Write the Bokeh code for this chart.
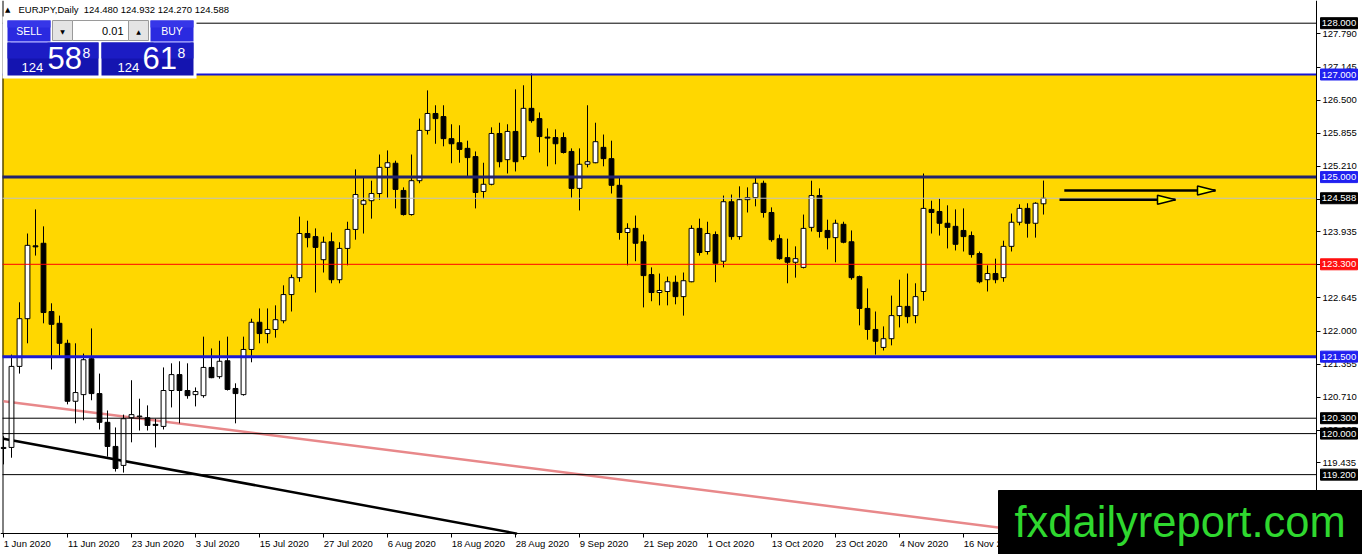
from bokeh.plotting import figure
from bokeh.models import (Range1d, BoxAnnotation, Label, FixedTicker, LinearAxis,
                          PrintfTickFormatter, AllLabels, ColumnDataSource)
from bokeh.embed import file_html
from bokeh.resources import INLINE

# ---------------- data ----------------
symbol_text = "EURJPY,Daily"
last_ohlc = "124.480 124.932 124.270 124.588"

opens = [119.71, 119.73, 121.31, 122.24, 123.66, 123.71, 122.38, 122.15, 121.76, 120.63,
         120.76, 121.46, 120.78, 120.22, 119.75, 119.38, 120.31, 120.33, 120.31, 120.18,
         120.14, 120.84, 121.15, 120.84, 120.76, 120.74, 121.29, 121.11, 121.42, 120.88,
         120.76, 121.64, 122.17, 121.95, 122.03, 122.20, 122.71, 123.04, 123.90, 123.84,
         123.39, 123.74, 123.00, 123.61, 123.98, 124.47, 124.54, 124.68, 125.19, 125.27,
         124.74, 124.27, 124.93, 125.91, 126.24, 126.18, 125.75, 125.67, 125.56, 125.40,
         124.72, 124.86, 125.85, 125.34, 125.89, 125.40, 126.34, 126.14, 125.78, 125.77,
         125.77, 125.50, 124.78, 125.25, 125.28, 125.58, 125.36, 124.84, 123.92, 124.00,
         123.74, 123.10, 122.75, 122.77, 122.95, 122.67, 122.96, 124.00, 123.55, 123.88,
         123.36, 124.52, 123.84, 124.56, 124.60, 124.88, 124.31, 123.80, 123.43, 123.34,
         123.24, 124.02, 124.64, 123.96, 123.82, 124.08, 123.74, 123.06, 122.44, 122.03,
         121.68, 121.85, 122.30, 122.48, 122.30, 122.77, 124.37, 124.33, 124.10, 124.04,
         123.96, 123.86, 123.51, 123.00, 123.12, 123.04, 123.65, 124.12, 124.39, 124.10,
         124.480]
highs = [119.95, 121.54, 122.56, 123.90, 124.37, 124.04, 122.54, 122.30, 121.83, 121.76,
         121.56, 122.05, 121.17, 120.45, 120.12, 120.37, 121.04, 120.68, 120.55, 120.29,
         121.29, 121.37, 121.41, 121.37, 120.90, 121.89, 121.66, 121.81, 121.89, 120.98,
         121.89, 122.24, 122.44, 122.44, 122.50, 122.89, 123.10, 124.23, 124.15, 124.00,
         123.84, 123.92, 123.73, 124.13, 125.15, 124.99, 124.93, 125.44, 125.52, 125.32,
         124.80, 125.44, 126.14, 126.69, 126.40, 126.40, 126.03, 126.01, 125.71, 125.50,
         125.28, 125.97, 126.06, 126.03, 126.71, 126.79, 127.02, 126.26, 125.95, 125.93,
         125.87, 125.56, 125.56, 126.40, 126.06, 125.83, 125.71, 124.99, 124.10, 124.25,
         123.88, 123.24, 123.12, 123.06, 123.08, 123.14, 124.06, 124.19, 124.13, 123.94,
         124.64, 124.66, 124.82, 124.80, 125.01, 124.93, 124.41, 123.88, 123.80, 123.65,
         124.27, 124.93, 124.78, 124.17, 124.17, 124.13, 123.96, 123.08, 122.83, 122.38,
         122.09, 122.69, 123.00, 123.12, 122.93, 125.07, 124.54, 124.58, 124.45, 124.37,
         124.39, 123.94, 123.55, 123.28, 123.41, 123.76, 124.29, 124.47, 124.49, 124.51,
         124.932]
lows = [119.40, 119.53, 121.17, 121.76, 123.47, 122.15, 121.25, 121.52, 120.57, 120.20,
        120.26, 120.65, 120.08, 119.55, 119.26, 119.24, 119.83, 120.06, 120.06, 119.73,
        120.08, 120.51, 120.20, 120.68, 120.53, 120.70, 121.08, 121.07, 120.84, 120.20,
        120.74, 121.39, 121.76, 121.76, 121.87, 122.15, 122.38, 122.96, 123.63, 122.75,
        123.14, 122.93, 122.93, 123.28, 123.78, 123.90, 124.19, 124.56, 124.60, 124.39,
        124.25, 124.25, 124.88, 125.83, 125.65, 125.60, 125.27, 125.28, 124.99, 124.39,
        124.58, 124.84, 125.19, 125.07, 125.11, 125.34, 126.06, 125.48, 125.21, 125.25,
        125.46, 124.60, 124.35, 125.19, 125.27, 125.21, 124.68, 123.78, 123.28, 123.36,
        122.46, 122.58, 122.50, 122.50, 122.52, 122.30, 122.95, 123.47, 123.49, 122.95,
        123.24, 123.78, 123.78, 124.31, 124.43, 124.21, 123.74, 123.39, 122.93, 123.04,
        123.22, 123.94, 123.82, 123.59, 123.34, 123.71, 123.00, 122.11, 121.83, 121.54,
        121.62, 121.72, 122.07, 122.15, 122.15, 122.59, 123.90, 123.86, 123.61, 123.57,
        123.55, 123.43, 122.93, 122.77, 122.93, 122.96, 123.55, 124.06, 123.82, 123.82,
        124.270]
closes = [119.73, 121.31, 122.24, 123.67, 123.64, 122.36, 122.13, 121.76, 120.63, 120.80,
          121.44, 120.78, 120.22, 119.75, 119.32, 120.29, 120.37, 120.34, 120.16, 120.16,
          120.84, 121.15, 120.84, 120.74, 120.82, 121.29, 121.09, 121.41, 120.86, 120.78,
          121.64, 122.17, 121.95, 122.03, 122.22, 122.71, 123.04, 123.90, 123.82, 123.63,
          123.73, 123.00, 123.61, 123.98, 124.66, 124.54, 124.68, 125.19, 125.28, 124.76,
          124.27, 124.93, 125.91, 126.24, 126.14, 125.75, 125.65, 125.54, 125.38, 124.70,
          124.86, 125.85, 125.30, 125.89, 125.30, 126.34, 126.10, 125.79, 125.76, 125.65,
          125.48, 124.78, 125.25, 125.30, 125.69, 125.36, 124.84, 123.92, 124.00, 123.71,
          123.08, 122.75, 122.79, 122.96, 122.67, 122.98, 124.00, 123.53, 123.90, 123.32,
          124.52, 123.84, 124.56, 124.60, 124.88, 124.31, 123.78, 123.41, 123.34, 123.41,
          124.00, 124.64, 123.94, 123.82, 124.10, 123.73, 123.04, 122.44, 122.03, 121.80,
          121.85, 122.30, 122.48, 122.28, 122.67, 124.39, 124.31, 124.10, 124.02, 123.69,
          123.84, 123.49, 122.96, 123.12, 123.00, 123.65, 124.12, 124.39, 124.10, 124.49,
          124.588]

date_ticks = [0, 8, 16, 24, 32, 40, 48, 56, 64, 72, 80, 88, 96, 104, 112, 120, 128]
date_labels = ["1 Jun 2020", "11 Jun 2020", "23 Jun 2020", "3 Jul 2020", "15 Jul 2020",
               "27 Jul 2020", "6 Aug 2020", "18 Aug 2020", "28 Aug 2020", "9 Sep 2020",
               "21 Sep 2020", "1 Oct 2020", "13 Oct 2020", "23 Oct 2020", "4 Nov 2020",
               "16 Nov 2020", "26 Nov 2020"]
price_ticks = [127.790, 127.145, 126.500, 125.855, 125.210, 124.565, 123.935, 123.290,
               122.645, 122.000, 121.355, 120.710, 120.065, 119.435]

level_prices = [128.000, 127.000, 125.000, 124.588, 123.300, 121.500, 120.300, 120.000, 119.200]
level_line_colors = ["#000000", "#1515d6", "#22226e", "#c0c0c0", "#ff0000", "#1a1ad2",
                     "#000000", "#000000", "#000000"]
level_line_widths = [1, 2, 3, 1, 1, 3, 1, 1, 1]
level_tag_colors = ["#000000", "#2020f0", "#2020f0", "#000000", "#ff1010", "#2020f0",
                    "#000000", "#000000", "#000000"]

zone_low, zone_high = 121.5, 127.0

pink_x = [0, 130.3]
pink_y = [120.63, 118.05]
black_x = [0, 64.2]
black_y = [119.90, 118.05]

arrow_x0 = [132.6, 132.0]
arrow_x1 = [151.5, 146.5]
arrow_y = [124.74, 124.56]

sell_big, sell_small, sell_sup = "58", "124", "8"
buy_big, buy_small, buy_sup = "61", "124", "8"
lot_text = "0.01"
watermark = "fxdailyreport.com"


# helpers that convert reference-picture pixels into data units (layout only)
def X(px):
    return (px - 3) / 8.0


def Y(py):
    return 127.0 - (py - 74) / 51.3


FONT = "Liberation Sans"
AXIS_X = X(1316)      # right price scale
AXIS_Y = Y(533)       # bottom time scale

p = figure(width=1362, height=554, x_range=Range1d(X(0), X(1362)), y_range=Range1d(Y(554), Y(0)),
           y_axis_location="right", output_backend="svg", toolbar_location=None,
           min_border=0, min_border_left=0, min_border_top=0, min_border_right=0, min_border_bottom=0)
p.background_fill_color = "white"
p.border_fill_color = "white"
p.outline_line_color = None
p.xgrid.visible = False
p.ygrid.visible = False

# yellow zone
p.add_layout(BoxAnnotation(bottom=zone_low, top=zone_high, left=X(2), right=AXIS_X,
                           fill_color="#FFD700", fill_alpha=1.0, line_color=None, level="underlay"))

# left border
p.segment(x0=[X(2.5)], y0=[AXIS_Y], x1=[X(2.5)], y1=[Y(0)], line_color="black", line_width=1)

# trend lines
p.line(pink_x, pink_y, line_color="#e8888a", line_width=2.5)
p.line(black_x, black_y, line_color="#000000", line_width=2.5)

# candles
n = len(opens)
idx = list(range(n))
tops, bots, fills = [], [], []
for o, c in zip(opens, closes):
    t, b = max(o, c), min(o, c)
    if t - b < 0.012:
        t = b + 0.012
    tops.append(t)
    bots.append(b)
    fills.append("white" if c >= o else "black")
src = ColumnDataSource(dict(x=idx, high=highs, low=lows, top=tops, bottom=bots, fill=fills))
p.segment(x0="x", y0="low", x1="x", y1="high", source=src, line_color="black", line_width=1)
p.vbar(x="x", width=0.6, top="top", bottom="bottom", fill_color="fill", line_color="black",
       line_width=1, source=src)

# horizontal levels (stop at the price scale)
p.segment(x0=[X(2)] * len(level_prices), y0=level_prices, x1=[AXIS_X] * len(level_prices),
          y1=level_prices, line_color=level_line_colors, line_width=level_line_widths)

# arrows
p.segment(x0=arrow_x0, y0=arrow_y, x1=arrow_x1, y1=arrow_y, line_color="black", line_width=2.5)
hx = 18 / 8.0
hy = 4.5 / 51.3
p.patches(xs=[[x1 - hx, x1, x1 - hx] for x1 in arrow_x1],
          ys=[[y + hy, y, y - hy] for y in arrow_y],
          fill_color="#ffff00", line_color="black", line_width=1.5)

# ---------------- axes ----------------
yax = p.yaxis[0]
yax.fixed_location = AXIS_X
yax.ticker = FixedTicker(ticks=price_ticks)
yax.formatter = PrintfTickFormatter(format="%.3f")
yax.major_label_policy = AllLabels()

xax = p.xaxis[0]
xax.fixed_location = AXIS_Y
xax.ticker = FixedTicker(ticks=date_ticks)

for ax in (xax, yax):
    ax.major_label_text_font = FONT
    ax.major_label_text_font_size = "9.5px"
    ax.major_label_text_color = "black" if ax is yax else None
    ax.axis_line_color = "black"
    ax.major_tick_line_color = "black"
    ax.major_tick_in = 0
    ax.major_tick_out = 4
    ax.minor_tick_line_color = None
    ax.major_label_standoff = 2

# time-scale labels start at their tick (MetaTrader style)
W = {' ': 278, 'J': 500, 'u': 556, 'n': 556, 'l': 222, 'A': 667, 'g': 556, 'S': 667,
     'e': 556, 'p': 556, 'O': 778, 'c': 500, 't': 278, 'N': 722, 'o': 556, 'v': 500}
label_pos = []
for t, s in zip(date_ticks, date_labels):
    wpx = sum(W.get(ch, 556) for ch in s) * 9.5 / 1000.0
    label_pos.append(round(t + (wpx / 2.0 + 0.2) / 8.0, 3))
xlab = LinearAxis(fixed_location=AXIS_Y, ticker=FixedTicker(ticks=label_pos),
                  major_label_overrides={pos: s for pos, s in zip(label_pos, date_labels)},
                  major_label_policy=AllLabels(), axis_line_color=None,
                  major_tick_line_color=None, minor_tick_line_color=None,
                  major_tick_in=0, major_tick_out=0, major_label_standoff=4,
                  major_label_text_font=FONT, major_label_text_font_size="9.5px",
                  major_label_text_color="black")
p.add_layout(xlab, "below")


# ---------------- one-click trading panel ----------------
def box(x0, y0, x1, y1, color, line=None):
    p.add_layout(BoxAnnotation(left=X(x0), right=X(x1), top=Y(y0), bottom=Y(y1),
                               fill_color=color, fill_alpha=1.0,
                               line_color=line if line else "white",
                               line_alpha=1.0 if line else 0.0, line_width=1,
                               level="annotation"))


def lab(px, py, text, size, color="white", align="left", baseline="top", font=FONT):
    p.add_layout(Label(x=X(px), y=Y(py), text=text, text_font=font, text_font_size=size,
                       text_color=color, text_align=align, text_baseline=baseline))


box(2, 16, 196, 78, "white")
box(7, 20, 50, 41, "#2a2ae0")
box(150, 20, 193, 41, "#2a2ae0")
box(7, 20, 50, 27, "#3636e8")
box(150, 20, 193, 27, "#3636e8")
box(7, 42, 98, 75, "#1414b0")
box(101, 42, 193, 75, "#1414b0")
box(7, 42, 98, 58, "#1c1cc4")
box(101, 42, 193, 58, "#1c1cc4")
box(10, 41, 47, 42, "#8a8aff")
box(153, 41, 190, 42, "#8a8aff")
box(52, 20, 72, 40, "#e4e4e4", "#9a9a9a")
box(72, 20, 128, 40, "white", "#9a9a9a")
box(128, 20, 148, 40, "#e4e4e4", "#9a9a9a")

lab(28.5, 30.5, "SELL", "10.5px", align="center", baseline="middle")
lab(171.5, 30.5, "BUY", "10.5px", align="center", baseline="middle")
lab(123, 30.5, lot_text, "11px", color="black", align="right", baseline="middle")
lab(62, 30.5, "\u25bc", "6px", color="black", align="center", baseline="middle", font="DejaVu Sans")
lab(138, 30.5, "\u25b2", "6px", color="black", align="center", baseline="middle", font="DejaVu Sans")
lab(21, 62.5, sell_small, "13px")
lab(47, 46.5, sell_big, "31px")
lab(82, 47.5, sell_sup, "14px")
lab(117, 62.5, buy_small, "13px")
lab(142, 46.5, buy_big, "31px")
lab(177, 47.5, buy_sup, "14px")

# title line
lab(4.5, 5, "\u25b2", "7px", color="black", font="DejaVu Sans")
lab(18, 3, symbol_text + "\u00a0\u00a0" + last_ohlc, "9.5px", color="black")

# ---------------- price tags on the right scale ----------------
th = 5.5 / 51.3
for lv, tc in zip(level_prices, level_tag_colors):
    p.add_layout(BoxAnnotation(left=X(1320), right=X(1357), bottom=lv - th, top=lv + th,
                               fill_color=tc, fill_alpha=1.0, line_color=tc, line_alpha=1.0,
                               level="annotation"))
    p.add_layout(Label(x=X(1338.5), y=lv, text="%.3f" % lv, text_font=FONT,
                       text_font_size="9.5px", text_color="white", text_align="center",
                       text_baseline="middle"))

# ---------------- watermark ----------------
p.add_layout(BoxAnnotation(left=X(998), right=X(1363), top=Y(490), bottom=Y(555),
                           fill_color="black", fill_alpha=1.0, line_color="black", line_alpha=1.0,
                           level="annotation"))
p.add_layout(Label(x=X(1014), y=Y(497), text=watermark, text_font=FONT, text_font_size="43.5px",
                   text_color="#2fd82f", text_align="left", text_baseline="top"))

open("out.html", "w").write(file_html(p, INLINE))
